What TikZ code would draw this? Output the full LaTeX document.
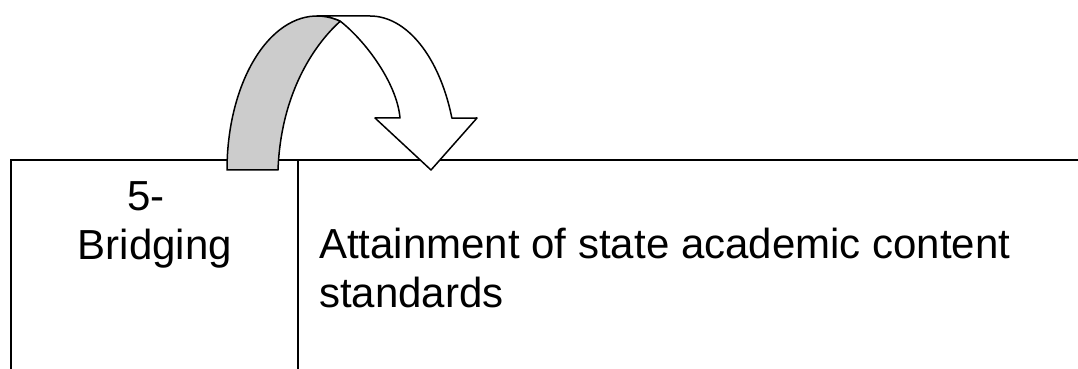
\documentclass[tikz,border=0pt]{standalone}
\usepackage{fontspec}
\setmainfont{Liberation Sans}
\begin{document}
\begin{tikzpicture}[x=1pt,y=1pt,
  rule/.style={line width=1.6pt, line cap=rect},
  arrowpart/.style={draw=black, line width=1.5pt, line join=round},
  lbl/.style={inner sep=0pt, font=\fontsize{42}{49}\selectfont}]
\useasboundingbox (0,0) rectangle (1078,369);
% table frame
\coordinate (tl) at (11,209);
\coordinate (tr) at (1078,209);
\coordinate (bl) at (11,0);
\coordinate (tm) at (298,209);
\coordinate (bm) at (298,0);
\draw[rule] (bl) -- (tl) -- (tr);
\draw[rule] (tm) -- (bm);
% curved arrow: white front part
\path (227,199) arc[start angle=180,end angle=75,x radius=90,y radius=154] coordinate (X);
\draw[arrowpart, fill=white] (317,353) -- (370,353)
  arc[start angle=90,end angle=19.7,x radius=87,y radius=154]
  -- (477,251) -- (431,199) -- (375,251) -- (400,251)
  .. controls (397,286) and (365,328.5) .. (X)
  arc[start angle=75,end angle=90,x radius=90,y radius=154] -- cycle;
% gray back part
\draw[arrowpart, fill=gray!40] (227,199)
  arc[start angle=180,end angle=75,x radius=90,y radius=154]
  .. controls (318,328) and (281,280) .. (278,199) -- cycle;
% texts
\node[lbl, align=center, anchor=base] (level) at (155,109) {5-\hspace*{18pt}\\Bridging};
\node[lbl, align=left, anchor=base west] (desc) at (319,61) {Attainment of state academic content\\standards};
\end{tikzpicture}
\end{document}
